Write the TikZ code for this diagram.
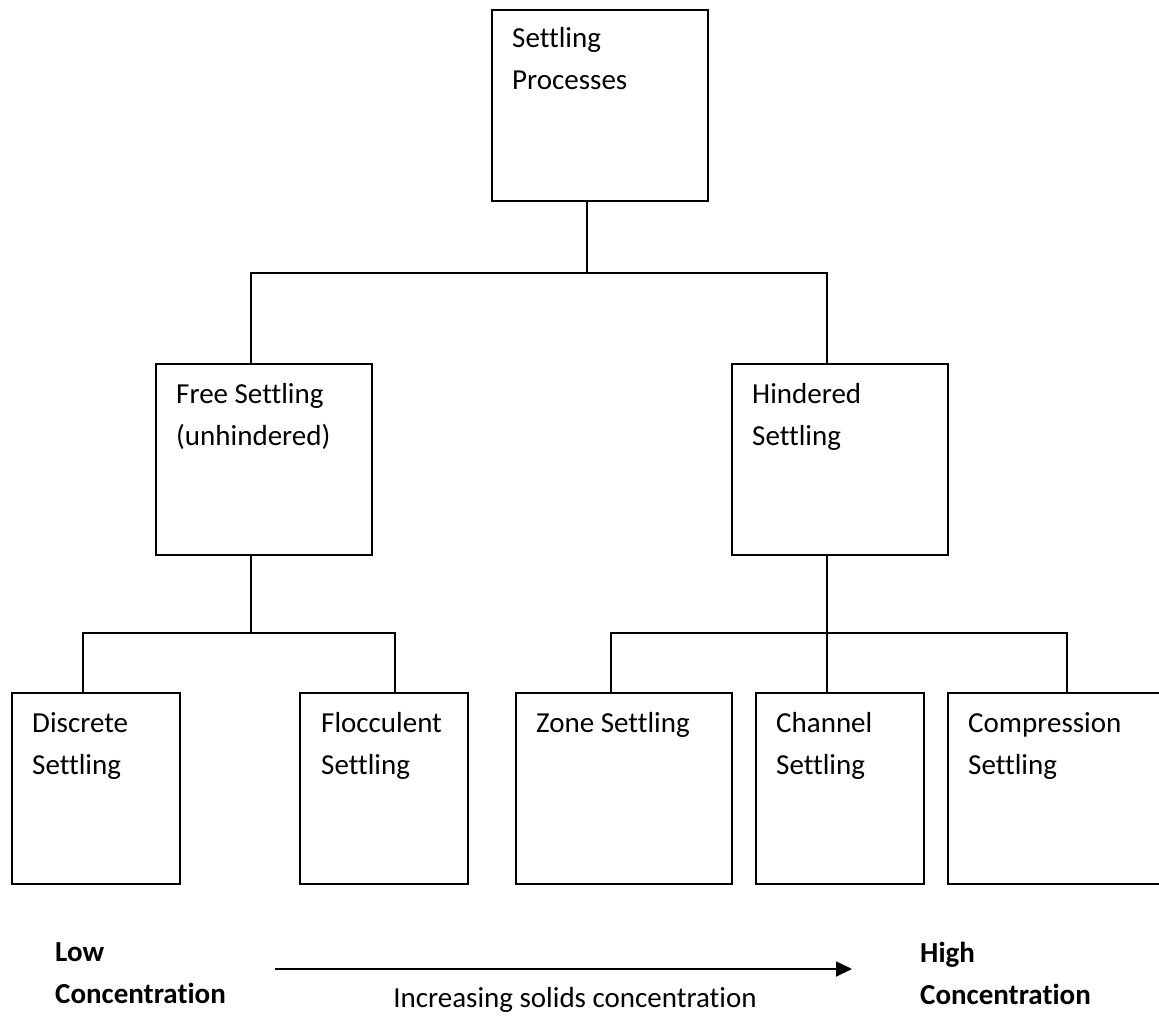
\documentclass[tikz,border=0pt]{standalone}
\usepackage{fontspec}
\setmainfont{Carlito}[Ligatures=NoCommon]
\usetikzlibrary{arrows.meta}
\begin{document}
\begin{tikzpicture}[x=1pt,y=-1pt,
  box/.style={draw, line width=1.9pt, rectangle, inner sep=0pt, anchor=north west, minimum height=191pt},
  wide/.style={box, minimum width=216pt},
  narrow/.style={box, minimum width=168pt},
  txt/.style={anchor=north west, inner sep=0pt, align=left, font=\fontsize{29}{42}\selectfont},
  btxt/.style={txt, font=\fontsize{29}{42}\selectfont\bfseries},
  conn/.style={line width=1.9pt}]
\useasboundingbox (0,0) rectangle (1159,1016);
% boxes
\node[wide]   (top)  at (491,9)   {};
\node[wide]   (free) at (155,363) {};
\node[wide]   (hind) at (731,363) {};
\node[narrow] (disc) at (11,692)  {};
\node[narrow] (floc) at (299,692) {};
\node[wide]   (zone) at (515,692) {};
\node[narrow] (chan) at (755,692) {};
\node[wide]   (comp) at (947,692) {};
% texts
\node[txt] (topT)  at ([shift={(21,18)}]top.north west)  {Settling\\Processes};
\node[txt] (freeT) at ([shift={(21,20)}]free.north west) {Free Settling\\(unhindered)};
\node[txt] (hindT) at ([shift={(21,20)}]hind.north west) {Hindered\\Settling};
\node[txt] (discT) at ([shift={(21,20)}]disc.north west) {Discrete\\Settling};
\node[txt] (flocT) at ([shift={(22,20)}]floc.north west) {Flocculent\\Settling};
\node[txt] (zoneT) at ([shift={(21,20)}]zone.north west) {Zone Settling};
\node[txt] (chanT) at ([shift={(21,20)}]chan.north west) {Channel\\Settling};
\node[txt] (compT) at ([shift={(21,20)}]comp.north west) {Compression\\Settling};
% connector junctions
\coordinate (j1) at (587,273);
\coordinate (j2) at (251,633);
\coordinate (j3) at (827,633);
\coordinate (cd) at (83,633);
\coordinate (cf) at (395,633);
\coordinate (cz) at (611,633);
\coordinate (cc) at (1067,633);
% connectors
\draw[conn] (top.south -| j1) -- (j1);
\draw[conn] (free.north -| j2) |- (j1) -| (hind.north -| j3);
\draw[conn] (free.south -| j2) -- (j2);
\draw[conn] (disc.north -| cd) -- (cd) -- (cf) -- (floc.north -| cf);
\draw[conn] (hind.south -| j3) -- (chan.north -| j3);
\draw[conn] (zone.north -| cz) -- (cz) -- (cc) -- (comp.north -| cc);
% bottom scale
\node[btxt] (low)  at (55,942)  {Low\\Concentration};
\node[btxt] (high) at (920,942) {High\\Concentration};
\coordinate (arrS) at (275,969);
\coordinate (arrE) at (852,969);
\draw[conn, -{Triangle[length=16pt,width=15pt]}] (arrS) -- (arrE);
\node[anchor=base, inner sep=0pt, font=\fontsize{29}{42}\selectfont] (inc) at (575,1007) {Increasing solids concentration};
\end{tikzpicture}
\end{document}
